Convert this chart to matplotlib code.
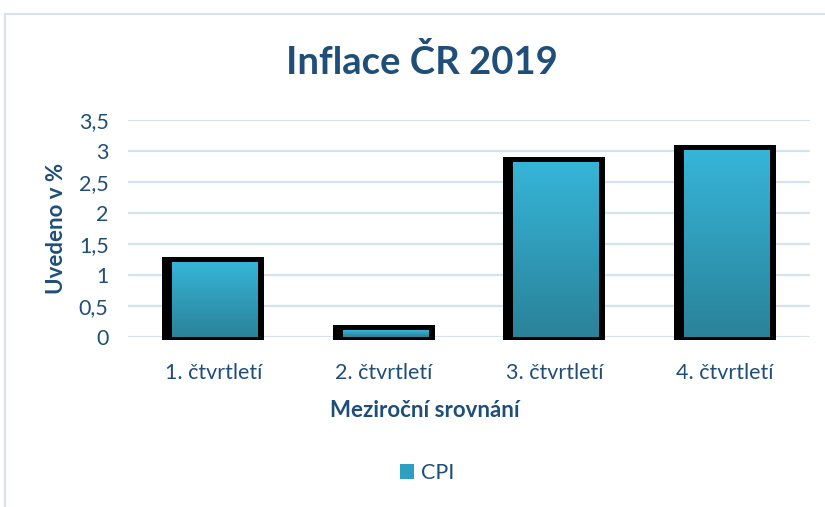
import numpy as np
import matplotlib.pyplot as plt
from matplotlib.colors import LinearSegmentedColormap
from matplotlib.patches import Rectangle, Patch

categories = ["1. čtvrtletí", "2. čtvrtletí", "3. čtvrtletí", "4. čtvrtletí"]
cpi = [1.24, 0.14, 2.86, 3.05]
yticks = [0, 0.5, 1, 1.5, 2, 2.5, 3, 3.5]
ytick_labels = ["0", "0,5", "1", "1,5", "2", "2,5", "3", "3,5"]

plt.rcParams['font.family'] = ['Lato', 'DejaVu Sans']
text_col = "#1F4E79"
grid_col = "#D6E1F2"
grad = LinearSegmentedColormap.from_list("teal", ["#2A8299", "#36B5D8"])

fig = plt.figure(figsize=(8.25, 5.07), dpi=100)
W, H = 825, 507
ax = fig.add_axes([128 / W, (H - 337) / H, (810 - 128) / W, (337 - 120) / H])

# chart border
fig.patches.append(Rectangle((5 / W, -0.01), 1.0, (H - 14) / H + 0.01, transform=fig.transFigure,
                             fill=False, edgecolor=grid_col, linewidth=1.5))

x = np.arange(len(categories))

for v in yticks:
    ax.axhline(v, color=grid_col, linewidth=1.6, zorder=0)

# black frame behind the bars
ax.bar(x, [v + 0.1 for v in cpi], width=0.6, bottom=-0.05, color="black", zorder=2, clip_on=False)

# gradient filled bars
g = np.linspace(0, 1, 256).reshape(-1, 1)
for xi, v in zip(x, cpi):
    top = v - 0.04
    ax.imshow(g, cmap=grad, origin="lower", aspect="auto",
              extent=(xi - 0.25 + 0.01, xi + 0.25 + 0.01, 0, top), zorder=3)
ax.set_xlim(-0.5, len(categories) - 0.5)
ax.set_ylim(0, 3.5)

ax.set_xticks(x)
ax.set_xticklabels(categories)
ax.set_yticks(yticks)
ax.set_yticklabels(ytick_labels)
ax.tick_params(length=0, labelsize=15.5, colors=text_col)
ax.tick_params(axis="x", pad=19)
ax.tick_params(axis="y", pad=14)
for s in ax.spines.values():
    s.set_visible(False)

ax.set_ylabel("Uvedeno v %", fontsize=16, fontweight="bold", color=text_col)
ax.yaxis.set_label_coords(-0.089, 0.5)
ax.set_xlabel("Meziroční srovnání", fontsize=16, fontweight="bold", color=text_col)
ax.xaxis.set_label_coords(0.435, -0.29)
fig.text(422 / W, (H - 62) / H, "Inflace ČR 2019", ha="center", va="center",
         fontsize=27.5, fontweight="bold", color=text_col)

handle = Patch(facecolor="#2F9FC0", edgecolor="none")
fig.legend([handle], ["CPI"], loc="center", bbox_to_anchor=(427 / W, (H - 473) / H),
           frameon=False, fontsize=15.5, labelcolor=text_col, handlelength=0.65, handleheight=0.65,
           handletextpad=0.35)

fig.savefig("out.png", dpi=100)
